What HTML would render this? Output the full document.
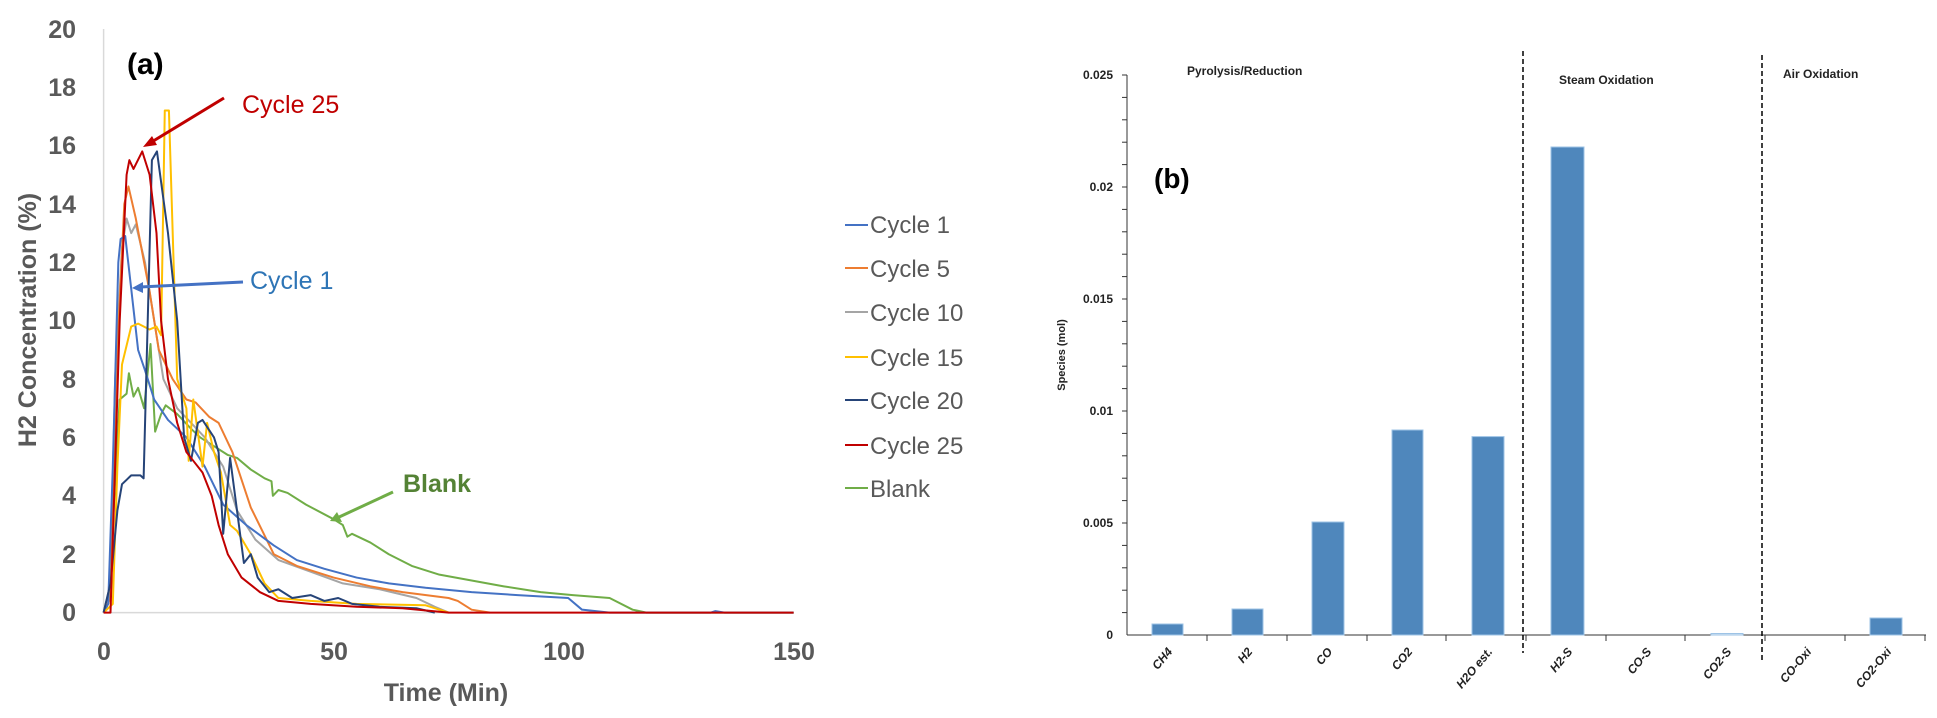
<!DOCTYPE html>
<html><head><meta charset="utf-8"><style>
body{margin:0;background:#fff;}
svg{display:block;font-family:"Liberation Sans",sans-serif;}
</style></head><body>
<svg width="1937" height="718" viewBox="0 0 1937 718">
<rect width="1937" height="718" fill="#fff"/>
<!-- LEFT CHART -->
<line x1="103.6" y1="29" x2="103.6" y2="613" stroke="#d9d9d9" stroke-width="1.5"/>
<line x1="103.6" y1="612.6" x2="794" y2="612.6" stroke="#d9d9d9" stroke-width="1.5"/>
<g font-size="25" font-weight="bold" fill="#595959" text-anchor="end">
<text x="76" y="621">0</text><text x="76" y="563">2</text><text x="76" y="504">4</text><text x="76" y="446">6</text><text x="76" y="388">8</text><text x="76" y="329">10</text><text x="76" y="271">12</text><text x="76" y="213">14</text><text x="76" y="154">16</text><text x="76" y="96">18</text><text x="76" y="38">20</text>
</g>
<g font-size="25" font-weight="bold" fill="#595959" text-anchor="middle">
<text x="104" y="660">0</text><text x="334" y="660">50</text><text x="564" y="660">100</text><text x="794" y="660">150</text>
<text x="446" y="701">Time (Min)</text>
<text transform="translate(36,320) rotate(-90)">H2 Concentration (%)</text>
</g>
<g transform="translate(103.6,612.6) scale(4.6,-29.19)" fill="none" stroke-width="2" stroke-linejoin="round">
<polyline vector-effect="non-scaling-stroke" stroke="#70AD47" points="0,0 1,0.3 2,3 3.5,7.3 5,7.5 5.5,8.2 6.5,7.4 7.5,7.7 8.8,7 10.2,9.2 11.2,6.2 12.5,6.8 13.5,7.1 16,6.8 19,6.3 21,6 24,5.7 27,5.4 29,5.3 32,4.9 35,4.6 36.5,4.5 36.8,4 38,4.2 40,4.1 44,3.7 50,3.2 52,3 53,2.6 54,2.7 58,2.4 62,2 67,1.6 73,1.3 80,1.1 87,0.9 95,0.7 102,0.6 110,0.5 115,0.1 118,0 150,0"/>
<polyline vector-effect="non-scaling-stroke" stroke="#A5A5A5" points="0,0 1.5,1 2.5,8 4,12.5 5,13.5 6,13 7,13.3 9,12 11,10 13,8 16,7 19,6.5 22,6 26,5 29,3.5 33,2.5 38,1.8 45,1.4 52,1 60,0.8 68,0.5 72,0.2 75,0"/>
<polyline vector-effect="non-scaling-stroke" stroke="#ED7D31" points="0,0 1.5,0.5 3,9 4.5,14 5.4,14.6 7,13.5 10,11 12,9 15,8 18,7.3 20,7.2 23,6.7 25,6.5 28,5.5 32,3.6 37,2 42,1.6 50,1.2 58,0.9 65,0.7 75,0.5 77,0.4 80,0.1 84,0"/>
<polyline vector-effect="non-scaling-stroke" stroke="#4472C4" points="0,0 1,0.3 2,5 3.2,12 3.7,12.8 4.7,12.9 6,11.1 7.5,9 9,8.3 11,7.3 14,6.6 18,6 22,5 26,3.7 31,3 37,2.3 42,1.8 48,1.5 55,1.2 62,1 70,0.85 80,0.7 90,0.6 101,0.5 104,0.1 110,0 132,0 133,0.05 135,0 150,0"/>
<polyline vector-effect="non-scaling-stroke" stroke="#FFC000" points="0,0 2,0.3 3,5 4,8.5 6,9.8 7.5,9.9 10,9.7 11.5,9.8 12.5,9.5 13.3,17.2 14.2,17.2 16,8 18,7 18.5,5.2 19.5,7.3 21.5,5 22.5,6.5 24,5.5 25.5,4.8 27.5,3 29,2.8 32,2 35,1 38,0.5 45,0.4 55,0.3 70,0.25 75,0"/>
<polyline vector-effect="non-scaling-stroke" stroke="#264478" points="0,0 1.5,1 3,3.5 4,4.4 6,4.7 8,4.7 8.7,4.6 10.5,15.5 11.6,15.8 14,13 16,10 17.5,6 19,5.2 20.5,6.5 21.5,6.6 24,6 25,5.5 26,2.7 27.5,5.3 29,3.5 30.5,1.7 32,2 33.5,1.2 36,0.7 38,0.8 41,0.5 45,0.6 48,0.4 51,0.5 54,0.3 60,0.2 68,0.15 72,0"/>
<polyline vector-effect="non-scaling-stroke" stroke="#C00000" points="0,0 1.5,0 3.5,10 5,15 5.6,15.5 6.5,15.2 8.4,15.8 10,15 11.5,13 12.5,10 14,8 16,6.5 18,5.5 19.5,5.2 21.5,4.8 23.5,4 25,3 27,2 30,1.2 34,0.7 38,0.4 45,0.3 55,0.2 65,0.15 75,0 150,0"/>
</g>
<text x="127" y="74" font-size="30" font-weight="bold" fill="#000">(a)</text>
<text x="242" y="113" font-size="25" fill="#C00000">Cycle 25</text>
<line x1="224" y1="98" x2="150" y2="143" stroke="#C00000" stroke-width="3"/>
<polygon points="143,147 152,136 157,145" fill="#C00000"/>
<text x="250" y="289" font-size="25" fill="#2E75B6">Cycle 1</text>
<line x1="243" y1="282" x2="140" y2="287" stroke="#4472C4" stroke-width="3"/>
<polygon points="132,288 143,282 143,293" fill="#4472C4"/>
<text x="403" y="492" font-size="25" font-weight="bold" fill="#548235">Blank</text>
<line x1="393" y1="492" x2="337" y2="518" stroke="#70AD47" stroke-width="3"/>
<polygon points="330,521 337,512 342,522" fill="#70AD47"/>
<!-- legend -->
<g font-size="24" fill="#595959">
<line x1="845" y1="225" x2="868" y2="225" stroke="#4472C4" stroke-width="2"/><text x="870" y="233">Cycle 1</text>
<line x1="845" y1="268" x2="868" y2="268" stroke="#ED7D31" stroke-width="2"/><text x="870" y="277">Cycle 5</text>
<line x1="845" y1="312" x2="868" y2="312" stroke="#A5A5A5" stroke-width="2"/><text x="870" y="321">Cycle 10</text>
<line x1="845" y1="357" x2="868" y2="357" stroke="#FFC000" stroke-width="2"/><text x="870" y="366">Cycle 15</text>
<line x1="845" y1="400" x2="868" y2="400" stroke="#264478" stroke-width="2"/><text x="870" y="409">Cycle 20</text>
<line x1="845" y1="445" x2="868" y2="445" stroke="#C00000" stroke-width="2"/><text x="870" y="454">Cycle 25</text>
<line x1="845" y1="488" x2="868" y2="488" stroke="#70AD47" stroke-width="2"/><text x="870" y="497">Blank</text>
</g>
<!-- RIGHT CHART -->
<g stroke="#333" stroke-width="1">
<line x1="1127" y1="75" x2="1127" y2="635"/>
<line x1="1127" y1="635" x2="1926" y2="635"/>
<line x1="1122" y1="75" x2="1127" y2="75"/><line x1="1122" y1="97.4" x2="1127" y2="97.4"/><line x1="1122" y1="119.8" x2="1127" y2="119.8"/><line x1="1122" y1="142.2" x2="1127" y2="142.2"/><line x1="1122" y1="164.6" x2="1127" y2="164.6"/><line x1="1122" y1="187" x2="1127" y2="187"/><line x1="1122" y1="209.4" x2="1127" y2="209.4"/><line x1="1122" y1="231.8" x2="1127" y2="231.8"/><line x1="1122" y1="254.2" x2="1127" y2="254.2"/><line x1="1122" y1="276.6" x2="1127" y2="276.6"/><line x1="1122" y1="299" x2="1127" y2="299"/><line x1="1122" y1="321.4" x2="1127" y2="321.4"/><line x1="1122" y1="343.8" x2="1127" y2="343.8"/><line x1="1122" y1="366.2" x2="1127" y2="366.2"/><line x1="1122" y1="388.6" x2="1127" y2="388.6"/><line x1="1122" y1="411" x2="1127" y2="411"/><line x1="1122" y1="433.4" x2="1127" y2="433.4"/><line x1="1122" y1="455.8" x2="1127" y2="455.8"/><line x1="1122" y1="478.2" x2="1127" y2="478.2"/><line x1="1122" y1="500.6" x2="1127" y2="500.6"/><line x1="1122" y1="523" x2="1127" y2="523"/><line x1="1122" y1="545.4" x2="1127" y2="545.4"/><line x1="1122" y1="567.8" x2="1127" y2="567.8"/><line x1="1122" y1="590.2" x2="1127" y2="590.2"/><line x1="1122" y1="612.6" x2="1127" y2="612.6"/>
<line x1="1207" y1="635" x2="1207" y2="641"/><line x1="1287" y1="635" x2="1287" y2="641"/><line x1="1367" y1="635" x2="1367" y2="641"/><line x1="1446" y1="635" x2="1446" y2="641"/><line x1="1526" y1="635" x2="1526" y2="641"/><line x1="1606" y1="635" x2="1606" y2="641"/><line x1="1685" y1="635" x2="1685" y2="641"/><line x1="1765" y1="635" x2="1765" y2="641"/><line x1="1845" y1="635" x2="1845" y2="641"/><line x1="1925" y1="635" x2="1925" y2="641"/>
</g>
<g font-size="12" font-weight="bold" fill="#222" text-anchor="end">
<text x="1113" y="79">0.025</text><text x="1113" y="191">0.02</text><text x="1113" y="303">0.015</text><text x="1113" y="415">0.01</text><text x="1113" y="527">0.005</text><text x="1113" y="639">0</text>
</g>
<text transform="translate(1065,355) rotate(-90)" font-size="11" font-weight="bold" fill="#222" text-anchor="middle">Species (mol)</text>
<g fill="#4F87BC" stroke="#9DC3E6" stroke-width="1">
<rect x="1152" y="624" width="31" height="11"/>
<rect x="1232" y="609" width="31" height="26"/>
<rect x="1312" y="522" width="32" height="113"/>
<rect x="1392" y="430" width="31" height="205"/>
<rect x="1472" y="436.6" width="32" height="198.4"/>
<rect x="1551" y="147" width="33" height="488"/>
<rect x="1711" y="633.5" width="32" height="1.5" fill="#DDEBF7"/>
<rect x="1870" y="618" width="32" height="17"/>
</g>
<g stroke="#000" stroke-width="1.5" stroke-dasharray="5,3">
<line x1="1523" y1="51" x2="1523" y2="653"/>
<line x1="1762" y1="55" x2="1762" y2="662"/>
</g>
<g font-size="12" font-weight="bold" fill="#222">
<text x="1187" y="75">Pyrolysis/Reduction</text>
<text x="1559" y="84">Steam Oxidation</text>
<text x="1783" y="78">Air Oxidation</text>
</g>
<text x="1154" y="188" font-size="28" font-weight="bold" fill="#000">(b)</text>
<g font-size="12" font-weight="bold" font-style="italic" fill="#222" text-anchor="end">
<text transform="translate(1173,652) rotate(-50)">CH4</text>
<text transform="translate(1253,652) rotate(-50)">H2</text>
<text transform="translate(1333,652) rotate(-50)">CO</text>
<text transform="translate(1413,652) rotate(-50)">CO2</text>
<text transform="translate(1493,652) rotate(-50)">H2O est.</text>
<text transform="translate(1573,652) rotate(-50)">H2-S</text>
<text transform="translate(1652,652) rotate(-50)">CO-S</text>
<text transform="translate(1732,652) rotate(-50)">CO2-S</text>
<text transform="translate(1812,652) rotate(-50)">CO-Oxi</text>
<text transform="translate(1892,652) rotate(-50)">CO2-Oxi</text>
</g>
</svg>
</body></html>
